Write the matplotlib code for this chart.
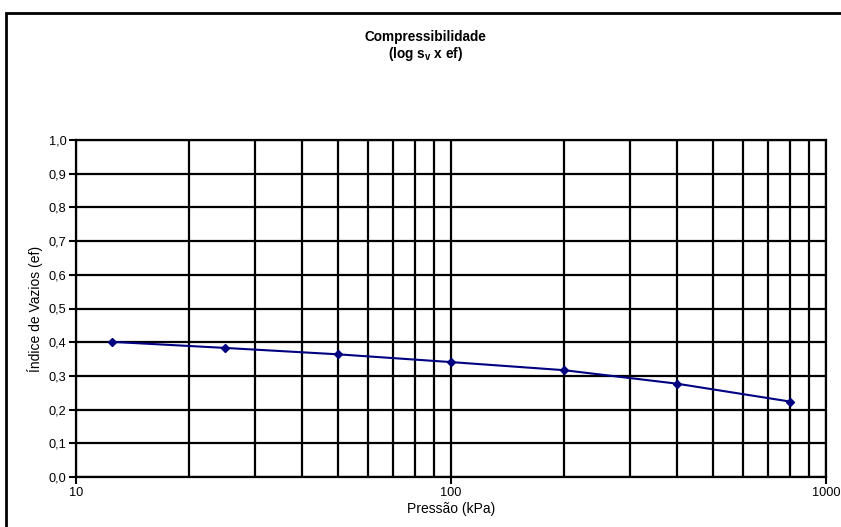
import matplotlib.pyplot as plt
from matplotlib.patches import Rectangle
from matplotlib.ticker import FixedLocator, FixedFormatter, NullFormatter

plt.rcParams['font.family'] = ['Liberation Sans', 'DejaVu Sans']

# dados do ensaio
pressao = [12.5, 25, 50, 100, 200, 400, 800]
indice_vazios = [0.401, 0.383, 0.364, 0.341, 0.317, 0.277, 0.224]

y_ticks = [0.0, 0.1, 0.2, 0.3, 0.4, 0.5, 0.6, 0.7, 0.8, 0.9, 1.0]
y_labels = ['0,0', '0,1', '0,2', '0,3', '0,4', '0,5', '0,6', '0,7', '0,8', '0,9', '1,0']
x_ticks = [10, 100, 1000]
x_labels = ['10', '100', '1000']
x_minor = [20, 30, 40, 50, 60, 70, 80, 90, 200, 300, 400, 500, 600, 700, 800, 900]

fig = plt.figure(figsize=(8.41, 5.27), dpi=100)
ax = fig.add_axes([76 / 841, 1 - 477 / 527, 750 / 841, 337 / 527])

# moldura externa (estilo Excel)
fig.patches.append(Rectangle((6 / 841, -0.1), 1.2, (527 - 13) / 527 + 0.1,
                             transform=fig.transFigure, fill=False,
                             edgecolor='black', linewidth=2))

ax.plot(pressao, indice_vazios, color='#000080', linewidth=1.5,
        marker='D', markersize=4, zorder=5)

ax.set_xscale('log')
ax.set_xlim(10, 1000)
ax.set_ylim(0, 1.0)

ax.xaxis.set_major_locator(FixedLocator(x_ticks))
ax.xaxis.set_major_formatter(FixedFormatter(x_labels))
ax.xaxis.set_minor_locator(FixedLocator(x_minor))
ax.xaxis.set_minor_formatter(NullFormatter())
ax.yaxis.set_major_locator(FixedLocator(y_ticks))
ax.yaxis.set_major_formatter(FixedFormatter(y_labels))

ax.grid(True, which='major', color='black', linewidth=1.6)
ax.grid(True, which='minor', axis='x', color='black', linewidth=1.6)
ax.tick_params(which='major', direction='out', length=5, width=1.5,
               labelsize=9.2, pad=2)
ax.tick_params(which='minor', length=0)
for s in ax.spines.values():
    s.set_linewidth(1.6)
    s.set_color('black')

ax.set_xlabel('Pressão (kPa)', fontsize=10, labelpad=2)
ax.set_ylabel('Índice de Vazios (ef)', fontsize=10, labelpad=4)

fig.text(0.506, 1 - 37 / 527, 'Compressibilidade', ha='center', va='center',
         fontsize=9.8, fontweight='bold')
fig.text(0.506, 1 - 54 / 527, r'(log $\mathregular{s_v}$ x ef)', ha='center',
         va='center', fontsize=9.8, fontweight='bold')

fig.savefig('out.png', dpi=100)
